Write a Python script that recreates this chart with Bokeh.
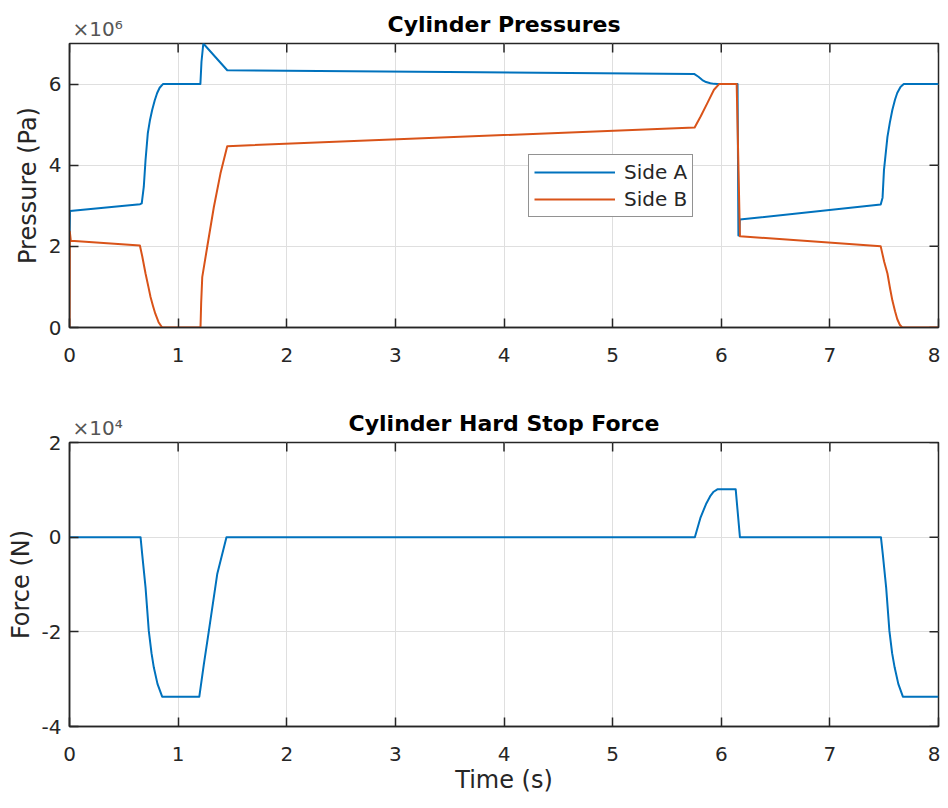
import math
from bokeh.plotting import figure
from bokeh.models import (Range1d, FixedTicker, Legend, LegendItem, Title,
                          CustomJSTickFormatter)
from bokeh.layouts import column
from bokeh.embed import file_html
from bokeh.resources import INLINE

# ---------------- data ----------------
x_ticks = [0, 1, 2, 3, 4, 5, 6, 7, 8]
pressure_ticks = [0, 2, 4, 6]          # x 1e6 Pa
force_ticks = [-4, -2, 0, 2]           # x 1e4 N

t_side_a = [0.0, 0.004, 0.650, 0.665, 0.684, 0.700, 0.721, 0.740, 0.761, 0.785, 0.807, 0.830,
            0.860, 1.205, 1.215, 1.232, 1.452, 3.780, 5.750, 5.790, 5.826, 5.860, 5.900, 5.935,
            5.965, 6.150, 6.158, 6.166, 6.171, 7.468, 7.485, 7.498, 7.530, 7.552, 7.575, 7.600,
            7.620, 7.650, 7.680, 8.000]
p_side_a = [2.35, 2.87, 3.04, 3.06, 3.47, 4.13, 4.79, 5.10, 5.36, 5.60, 5.78, 5.91,
            6.00, 6.00, 6.55, 7.00, 6.34, 6.29, 6.25, 6.18, 6.10, 6.05, 6.02, 6.005,
            6.00, 6.00, 2.27, 2.27, 2.66, 3.03, 3.20, 3.88, 4.70, 5.05, 5.36, 5.62,
            5.78, 5.93, 6.00, 6.00]

t_side_b = [0.0, 0.003, 0.012, 0.648, 0.670, 0.700, 0.725, 0.746, 0.770, 0.790, 0.820, 0.853,
            1.206, 1.212, 1.222, 1.268, 1.329, 1.390, 1.452, 5.755, 5.810, 5.872, 5.933, 5.980,
            6.142, 6.172, 7.468, 7.500, 7.530, 7.555, 7.575, 7.600, 7.620, 7.645, 7.667, 8.000]
p_side_b = [0.0, 2.36, 2.14, 2.02, 1.75, 1.33, 1.02, 0.75, 0.52, 0.34, 0.13, 0.0,
            0.0, 0.60, 1.24, 1.99, 2.97, 3.80, 4.47, 4.93, 5.20, 5.53, 5.86, 6.00,
            6.00, 2.25, 2.00, 1.62, 1.33, 0.95, 0.67, 0.40, 0.21, 0.06, 0.0, 0.0]

t_force = [0.0, 0.654, 0.670, 0.700, 0.730, 0.755, 0.776, 0.810, 0.853, 1.195, 1.237, 1.283,
           1.360, 1.445, 5.757, 5.810, 5.860, 5.902, 5.930, 5.964, 6.133, 6.172, 7.470, 7.488,
           7.518, 7.548, 7.573, 7.596, 7.630, 7.672, 8.000]
f_force = [0.0, 0.0, -0.38, -1.06, -1.98, -2.45, -2.75, -3.10, -3.37, -3.37, -2.68, -1.98,
           -0.78, 0.0, 0.0, 0.42, 0.70, 0.88, 0.96, 1.01, 1.01, 0.0, 0.0, -0.38,
           -1.06, -1.98, -2.45, -2.75, -3.10, -3.37, -3.37]

# ---------------- style ----------------
FONT = "DejaVu Sans"
AX = "#262626"
EXP = "#555555"
GRID = "#dfdfdf"
BLUE = "#0072BD"
ORANGE = "#D95319"
FRAME_W, FRAME_H = 869, 284


def style_axis(ax, ticks):
    ax.ticker = FixedTicker(ticks=ticks)
    ax.axis_line_color = AX
    ax.axis_line_width = 1.5
    ax.major_tick_line_color = AX
    ax.major_tick_line_width = 1.5
    ax.major_tick_in = 9
    ax.major_tick_out = 0
    ax.minor_tick_line_color = None
    ax.major_label_text_font = FONT
    ax.major_label_text_color = AX
    ax.major_label_text_font_size = "20px"
    ax.axis_label_text_font = FONT
    ax.axis_label_text_font_style = "normal"
    ax.axis_label_text_color = AX
    ax.axis_label_text_font_size = "24px"
    ax.formatter = CustomJSTickFormatter(code="return String(Math.round(tick));")


def make_fig(ylim, yticks, ylabel, xlabel, title, exponent, min_top, min_bottom):
    kw = dict(y_axis_label=ylabel)
    if xlabel:
        kw["x_axis_label"] = xlabel
    p = figure(frame_width=FRAME_W, frame_height=FRAME_H,
               x_range=Range1d(0, 8), y_range=Range1d(*ylim),
               output_backend="svg", toolbar_location=None,
               min_border_left=69, min_border_right=2,
               min_border_top=min_top, min_border_bottom=min_bottom,
               title=title, **kw)
    p.background_fill_color = "white"
    p.border_fill_color = "white"
    p.outline_line_color = AX
    p.outline_line_width = 1.5

    # main title (outermost slot in the top panel)
    p.title.align = "center"
    p.title.text_font = FONT
    p.title.text_font_size = "22px"
    p.title.text_font_style = "bold"
    p.title.text_color = "#000000"
    p.title.standoff = -49.6

    # MATLAB-style exponent above the top-left corner (slot nearest the frame)
    p.add_layout(Title(text="\u00d710" + exponent, align="left", offset=3,
                       vertical_align="bottom", standoff=4.6,
                       text_font=FONT, text_font_size="20px",
                       text_font_style="normal", text_color=EXP), "above")

    style_axis(p.xaxis[0], x_ticks)
    style_axis(p.yaxis[0], yticks)
    p.xaxis[0].major_label_standoff = 20
    p.yaxis[0].major_label_standoff = 8
    p.yaxis[0].axis_label_standoff = 4
    p.xaxis[0].axis_label_standoff = 2

    p.xgrid.ticker = FixedTicker(ticks=x_ticks)
    p.ygrid.ticker = FixedTicker(ticks=yticks)
    for g in (p.xgrid[0], p.ygrid[0]):
        g.grid_line_color = GRID
        g.grid_line_width = 1

    # box ticks on the top and right edges, pointing inward
    p.ray(x=x_ticks, y=[ylim[1]] * len(x_ticks), length=9, length_units="screen",
          angle=-math.pi / 2, line_color=AX, line_width=1.5)
    p.ray(x=[8] * len(yticks), y=yticks, length=9, length_units="screen",
          angle=math.pi, line_color=AX, line_width=1.5)
    return p


p1 = make_fig((0, 7), pressure_ticks, "Pressure (Pa)", None,
              "Cylinder Pressures", "\u2076", 43, 72)
ra = p1.line(t_side_a, p_side_a, line_color=BLUE, line_width=2, line_join="round")
rb = p1.line(t_side_b, p_side_b, line_color=ORANGE, line_width=2, line_join="round")

legend = Legend(items=[LegendItem(label="Side A", renderers=[ra]),
                       LegendItem(label="Side B", renderers=[rb])],
                location=(459, 110), orientation="vertical",
                border_line_color=AX, border_line_width=1.5,
                background_fill_color="white", background_fill_alpha=1.0,
                label_text_font=FONT, label_text_font_size="20px", label_text_color=AX,
                glyph_width=81, glyph_height=22, label_height=22, spacing=3,
                padding=5, margin=0, label_standoff=9)
p1.add_layout(legend)

p2 = make_fig((-4, 2), force_ticks, "Force (N)", "Time (s)",
              "Cylinder Hard Stop Force", "\u2074", 43, 80)
p2.line(t_force, f_force, line_color=BLUE, line_width=2, line_join="round")

layout = column(p1, p2, spacing=0)

with open("out.html", "w") as f:
    f.write(file_html(layout, INLINE))
